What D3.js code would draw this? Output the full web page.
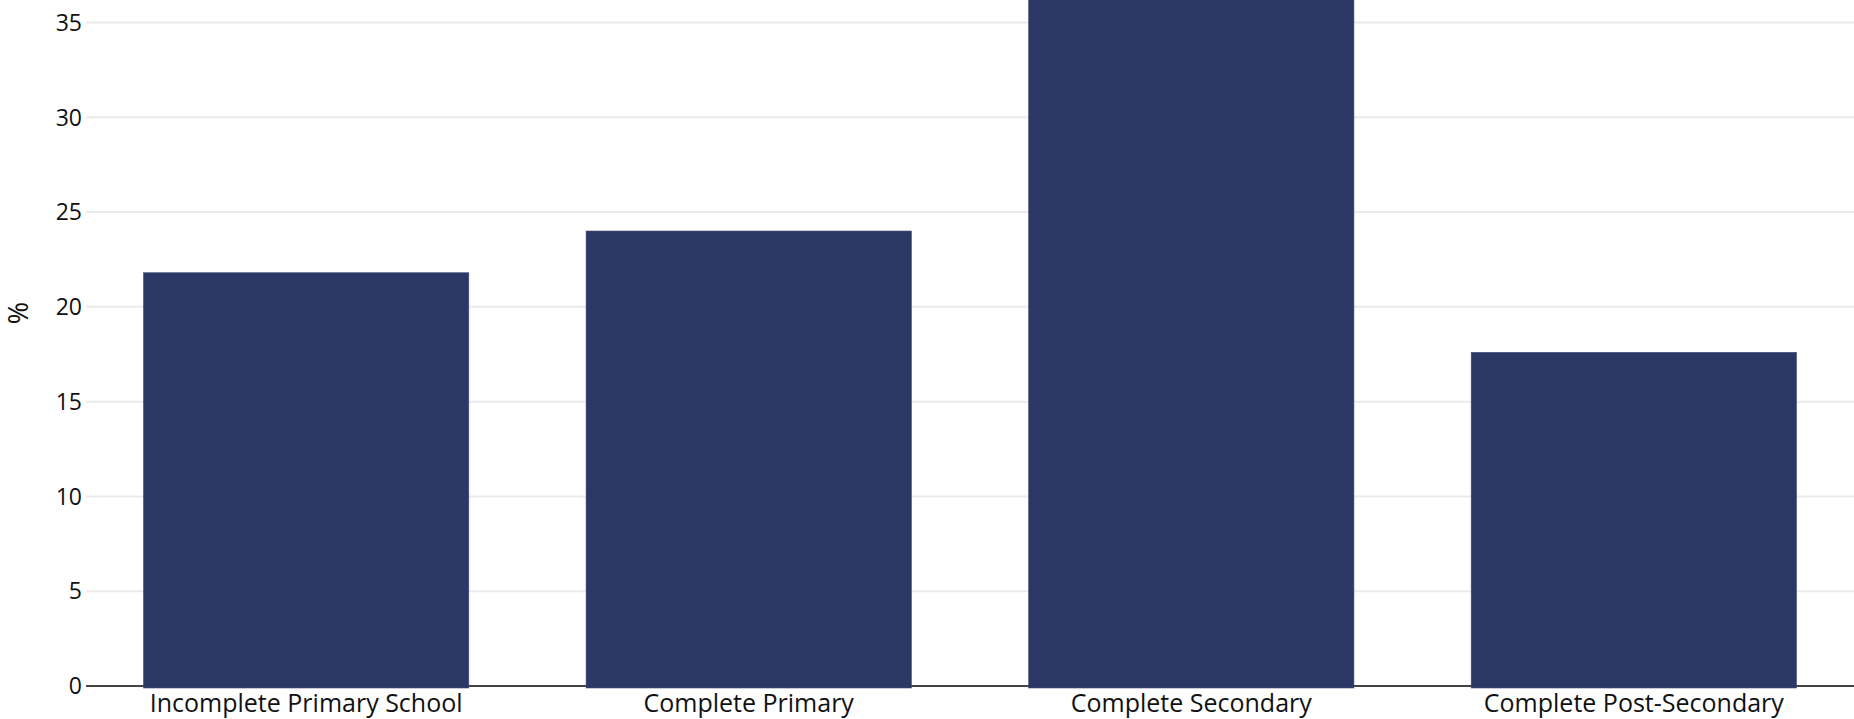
<!DOCTYPE html>
<html>
<head>
<meta charset="utf-8">
<script src="https://cdn.jsdelivr.net/npm/d3@7"></script>
<style>
  body { margin: 0; background: #fff; }
  svg { display: block; }
  text { font-family: "Open Sans", "Noto Sans", sans-serif; }
</style>
</head>
<body>
<svg id="chart" width="1854" height="719"></svg>
<script>
const categories = ["Incomplete Primary School", "Complete Primary", "Complete Secondary", "Complete Post-Secondary"];
const values = [21.8, 24.0, 36.6, 17.6];
const yTicks = [0, 5, 10, 15, 20, 25, 30, 35];

const svg = d3.select("#chart"),
    width = +svg.attr("width"),
    height = +svg.attr("height");

const margin = {left: 86, right: 0, bottom: 686};

// y: 0 sits at 686px, 35 at about 22.5px
let y = d3.scaleLinear().domain([0, 35]).range([margin.bottom, 22.5]);

let x = d3.scaleBand()
    .domain(categories)
    .range([margin.left, width])
    .paddingInner(0.265)
    .paddingOuter(0.13);

// gridlines
svg.append("g")
    .selectAll("line")
    .data(yTicks.filter(d => d > 0))
    .enter()
    .append("line")
    .attr("x1", margin.left)
    .attr("x2", width)
    .attr("y1", d => y(d))
    .attr("y2", d => y(d))
    .style("stroke", "#ebebeb")
    .style("stroke-width", 2);

// y tick labels
svg.append("g")
    .selectAll("text")
    .data(yTicks)
    .enter()
    .append("text")
    .attr("x", margin.left - 4)
    .attr("y", d => y(d))
    .attr("dy", "0.36em")
    .attr("text-anchor", "end")
    .style("font-size", "23px")
    .style("fill", "#111")
    .text(d => d);

// zero line
svg.append("line")
    .attr("x1", margin.left)
    .attr("x2", width)
    .attr("y1", y(0))
    .attr("y2", y(0))
    .style("stroke", "#444")
    .style("stroke-width", 2);

// bars
svg.append("g")
    .selectAll("rect")
    .data(values)
    .enter()
    .append("rect")
    .attr("x", (d, i) => x(categories[i]))
    .attr("width", x.bandwidth())
    .attr("y", d => y(d))
    .attr("height", d => y(0) - y(d) + 2)
    .style("fill", "#2b3765")
    .style("stroke", "#3d4a7a")
    .style("stroke-width", 0.6);

// category labels
svg.append("g")
    .selectAll("text")
    .data(categories)
    .enter()
    .append("text")
    .attr("x", d => x(d) + x.bandwidth() / 2)
    .attr("y", 712)
    .attr("text-anchor", "middle")
    .style("font-size", "25px")
    .style("fill", "#111")
    .text(d => d);

// y axis title
svg.append("text")
    .attr("transform", "translate(28,313) rotate(-90)")
    .attr("text-anchor", "middle")
    .style("font-size", "27px")
    .style("fill", "#111")
    .text("%");
</script>
</body>
</html>
